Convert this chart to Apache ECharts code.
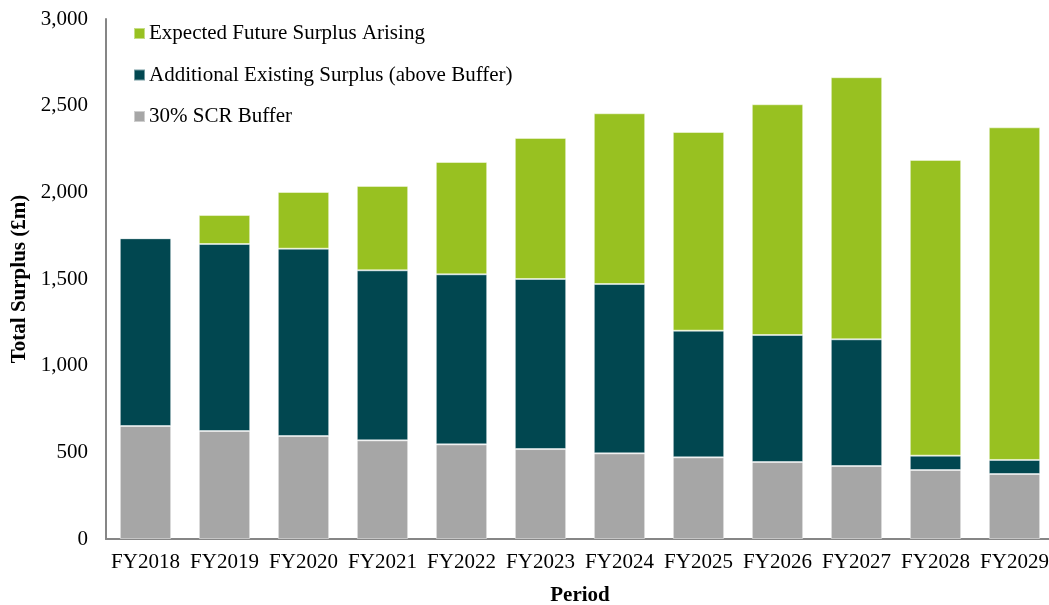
<!DOCTYPE html>
<html><head><meta charset="utf-8">
<script src="https://cdn.jsdelivr.net/npm/echarts@6/dist/echarts.min.js"></script>
<style>html,body{margin:0;padding:0;background:#fff}#c{width:1049px;height:605px}</style>
</head><body><div id="c"></div>
<script>
const categories = ['FY2018','FY2019','FY2020','FY2021','FY2022','FY2023','FY2024','FY2025','FY2026','FY2027','FY2028','FY2029'];
const scrBuffer = [652,623,594,569,546,519,494,471,444,421,398,375];
const existingSurplus = [1083,1079,1081,981,981,981,977,731,733,731,83,81];
const futureSurplus = [0,167,327,487,648,814,985,1146,1331,1512,1706,1919];
const yTicks = [0,500,1000,1500,2000,2500,3000];

const font = 'Liberation Serif, Times New Roman, serif';
const chart = echarts.init(document.getElementById('c'), null, {renderer:'canvas'});
const border = {borderColor:'rgba(255,255,255,0.45)', borderWidth:1};
chart.setOption({
  animation:false,
  grid:{left:106, top:19, width:948, height:520, containLabel:false, outerBoundsMode:'none'},
  legend:{
    orient:'vertical', left:128, top:18, itemGap:20.5, itemWidth:11, itemHeight:11,
    icon:'rect',
    textStyle:{fontFamily:font, fontSize:21, color:'#000', padding:[0,0,0,-1]},
    data:['Expected Future Surplus Arising','Additional Existing Surplus (above Buffer)','30% SCR Buffer']
  },
  xAxis:{
    type:'category', data:categories,
    name:'Period', nameLocation:'middle', nameGap:46,
    nameTextStyle:{fontFamily:font, fontSize:21, fontWeight:'bold', color:'#000'},
    axisLine:{lineStyle:{color:'#868686', width:2}},
    axisTick:{show:false},
    axisLabel:{fontFamily:font, fontSize:21, color:'#000', margin:13, interval:0}
  },
  yAxis:{
    type:'value', min:yTicks[0], max:yTicks[yTicks.length-1], interval:500,
    name:'Total Surplus (£m)', nameLocation:'middle', nameGap:74, nameRotate:90,
    nameTextStyle:{fontFamily:font, fontSize:21, fontWeight:'bold', color:'#000'},
    axisLine:{show:true, lineStyle:{color:'#868686', width:2}},
    axisTick:{show:false},
    splitLine:{show:false},
    axisLabel:{fontFamily:font, fontSize:21, color:'#000', margin:18,
      formatter:v=>v.toLocaleString('en-US')}
  },
  series:[
    {name:'30% SCR Buffer', type:'bar', stack:'s', data:scrBuffer, barCategoryGap:'35%',
      itemStyle:Object.assign({color:'#A6A6A6'},border)},
    {name:'Additional Existing Surplus (above Buffer)', type:'bar', stack:'s', data:existingSurplus,
      itemStyle:Object.assign({color:'#014750'},border)},
    {name:'Expected Future Surplus Arising', type:'bar', stack:'s', data:futureSurplus,
      itemStyle:Object.assign({color:'#98C121'},border)}
  ]
});
</script></body></html>
